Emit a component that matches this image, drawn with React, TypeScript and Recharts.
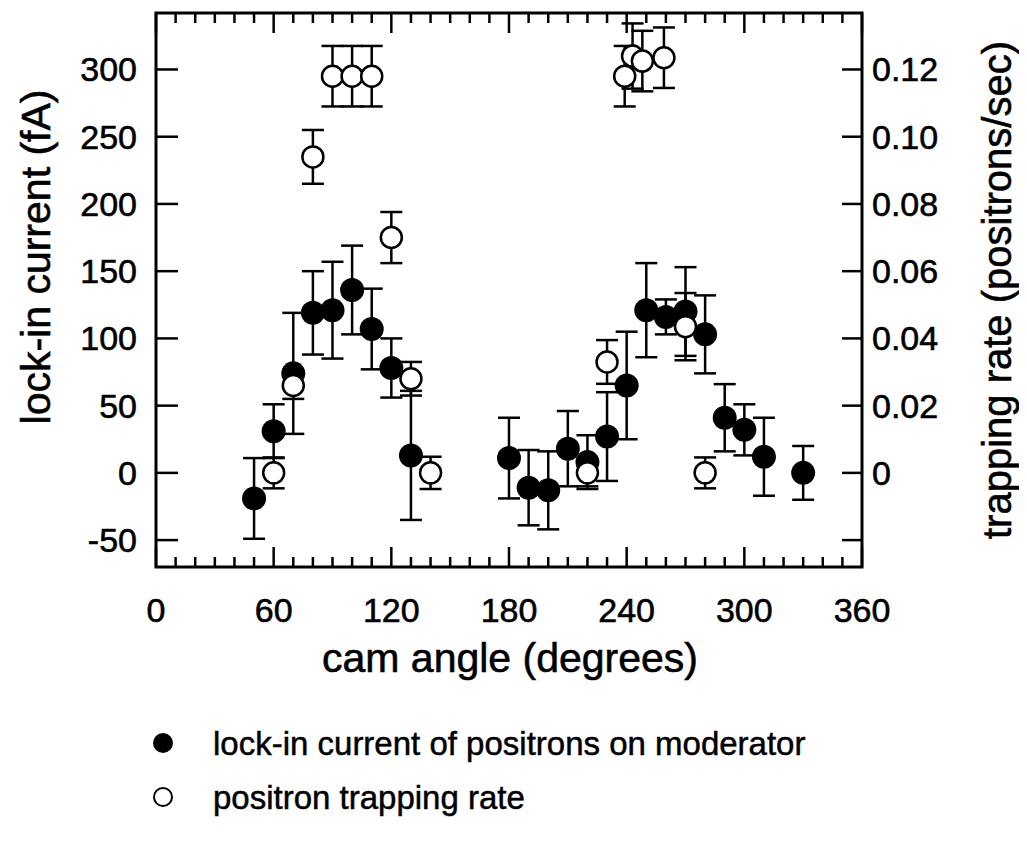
import React from "react";
import { ComposedChart, Scatter, XAxis, YAxis, ErrorBar, ReferenceArea, Label } from "recharts";

// lock-in current of positrons on moderator (fA)
const lockAngle = [50, 60, 70, 80, 90, 100, 110, 120, 130, 180, 190, 200, 210, 220, 230, 240, 250, 260, 270, 280, 290, 300, 310, 330];
const lockCurrent = [-19, 31, 74, 119, 121, 136, 107, 78, 13, 11, -11, -13, 18, 8, 27, 65, 121, 116, 120, 103, 41, 32, 12, 0];
const lockErr = [30, 20, 45, 31, 36, 33, 30, 22, 48, 30, 28, 29, 28, 20, 33, 40, 35, 13, 33, 29, 25, 19, 29, 20];

// positron trapping rate (positrons/sec)
const trapAngle = [60, 70, 80, 90, 100, 110, 120, 130, 140, 220, 230, 239, 243, 248, 259, 270, 280];
const trapRate = [0, 0.026, 0.094, 0.118, 0.118, 0.118, 0.07, 0.028, 0, 0, 0.033, 0.118, 0.124, 0.1225, 0.1235, 0.0435, 0];
const trapErr = [0.0046, 0.004, 0.008, 0.009, 0.009, 0.009, 0.0076, 0.005, 0.0048, 0.004, 0.0065, 0.009, 0.0097, 0.009, 0.009, 0.01, 0.0046];

const xTicks = [0, 10, 20, 30, 40, 50, 60, 70, 80, 90, 100, 110, 120, 130, 140, 150, 160, 170, 180, 190, 200, 210, 220, 230, 240, 250, 260, 270, 280, 290, 300, 310, 320, 330, 340, 350, 360];
const leftTicks = [-50, 0, 50, 100, 150, 200, 250, 300];
const rightTicks = [-0.02, 0, 0.02, 0.04, 0.06, 0.08, 0.1, 0.12];

const lockData = lockAngle.map((x, i) => ({ x, y: lockCurrent[i], err: lockErr[i] }));
const trapData = trapAngle.map((x, i) => ({ x, y: trapRate[i], err: trapErr[i] }));

const FONT = "'Liberation Sans', Arial, sans-serif";
const W = 1019;
const H = 835;
const TOP = 5;

const XTick = (props: any) => {
  const { x, y, payload } = props;
  const major = payload.value % 60 === 0;
  const len = major ? 20 : 10;
  return (
    <g>
      <line x1={x} y1={y} x2={x} y2={y - len} stroke="#000" strokeWidth={2.5} />
      <line x1={x} y1={TOP} x2={x} y2={TOP + len} stroke="#000" strokeWidth={2.5} />
      {major && (
        <text x={x} y={y + 55} textAnchor="middle" fontSize={34} fontFamily={FONT} fill="#000" stroke="#000" strokeWidth={0.6}>
          {payload.value}
        </text>
      )}
    </g>
  );
};

const LeftTick = (props: any) => {
  const { x, y, payload } = props;
  return (
    <g>
      <line x1={x} y1={y} x2={x + 22} y2={y} stroke="#000" strokeWidth={2.5} />
      <text x={x - 19} y={y + 12} textAnchor="end" fontSize={34} fontFamily={FONT} fill="#000" stroke="#000" strokeWidth={0.6}>
        {payload.value}
      </text>
    </g>
  );
};

const RightTick = (props: any) => {
  const { x, y, payload } = props;
  const v = payload.value;
  return (
    <g>
      <line x1={x} y1={y} x2={x - 20} y2={y} stroke="#000" strokeWidth={2.5} />
      {v >= 0 && (
        <text x={x + 10} y={y + 12} textAnchor="start" fontSize={34} fontFamily={FONT} fill="#000" stroke="#000" strokeWidth={0.6}>
          {v === 0 ? "0" : v.toFixed(2)}
        </text>
      )}
    </g>
  );
};

const FilledDot = (props: any) => <circle cx={props.cx} cy={props.cy} r={12} fill="#000" />;
const OpenDot = (props: any) => <circle cx={props.cx} cy={props.cy} r={10.5} fill="#fff" stroke="#000" strokeWidth={2.5} />;

const LegendBox = () => (
  <svg width={900} height={120} style={{ position: "absolute", left: 0, top: 700 }}>
    <circle cx={155} cy={35} r={10} fill="#000" />
    <text x={205} y={47} fontSize={33} fontFamily={FONT} fill="#000" stroke="#000" strokeWidth={0.5}>
      lock-in current of positrons on moderator
    </text>
    <circle cx={155} cy={89} r={9} fill="#fff" stroke="#000" strokeWidth={2} />
    <text x={205} y={101} fontSize={33} fontFamily={FONT} fill="#000" stroke="#000" strokeWidth={0.5}>
      positron trapping rate
    </text>
  </svg>
);

export default function App() {
  return (
    <div style={{ position: "relative", width: W, height: H }}>
      <ComposedChart width={W} height={H} margin={{ top: TOP, right: 0, left: 0, bottom: 176 }}>
        <XAxis
          type="number"
          dataKey="x"
          domain={[0, 360]}
          ticks={xTicks}
          interval={0}
          tick={<XTick />}
          tickLine={false}
          tickSize={0}
          tickMargin={0}
          axisLine={false}
          height={100}
        >
          <Label
            content={() => (
              <text x={502} y={664} textAnchor="middle" fontSize={41} fontFamily={FONT} fill="#000" stroke="#000" strokeWidth={0.6}>
                cam angle (degrees)
              </text>
            )}
          />
        </XAxis>
        <YAxis
          yAxisId="left"
          type="number"
          dataKey="y"
          domain={[-70, 342]}
          ticks={leftTicks}
          interval={0}
          tick={<LeftTick />}
          tickLine={false}
          tickSize={0}
          tickMargin={0}
          axisLine={false}
          width={148}
          allowDataOverflow
        >
          <Label
            content={() => (
              <text x={28} y={249} transform="rotate(-90, 28, 249)" textAnchor="middle" dominantBaseline="central" fontSize={41} fontFamily={FONT} fill="#000" stroke="#000" strokeWidth={0.6}>
                lock-in current (fA)
              </text>
            )}
          />
        </YAxis>
        <YAxis
          yAxisId="right"
          orientation="right"
          type="number"
          dataKey="y"
          domain={[-0.028, 0.1368]}
          ticks={rightTicks}
          interval={0}
          tick={<RightTick />}
          tickLine={false}
          tickSize={0}
          tickMargin={0}
          axisLine={false}
          width={165}
          allowDataOverflow
        >
          <Label
            content={() => (
              <text x={989} y={282} transform="rotate(-90, 989, 282)" textAnchor="middle" dominantBaseline="central" fontSize={40} fontFamily={FONT} fill="#000" stroke="#000" strokeWidth={0.6}>
                trapping rate (positrons/sec)
              </text>
            )}
          />
        </YAxis>
        <ReferenceArea yAxisId="left" x1={0} x2={360} y1={-70} y2={342} fill="none" stroke="#000" strokeWidth={3} ifOverflow="visible" />
        <Scatter yAxisId="left" data={lockData} shape={<FilledDot />} isAnimationActive={false}>
          <ErrorBar dataKey="err" direction="y" width={11} stroke="#000" strokeWidth={2.5} isAnimationActive={false} />
        </Scatter>
        <Scatter yAxisId="right" data={trapData} shape={<OpenDot />} isAnimationActive={false}>
          <ErrorBar dataKey="err" direction="y" width={11} stroke="#000" strokeWidth={2.5} isAnimationActive={false} />
        </Scatter>
      </ComposedChart>
      <LegendBox />
    </div>
  );
}
